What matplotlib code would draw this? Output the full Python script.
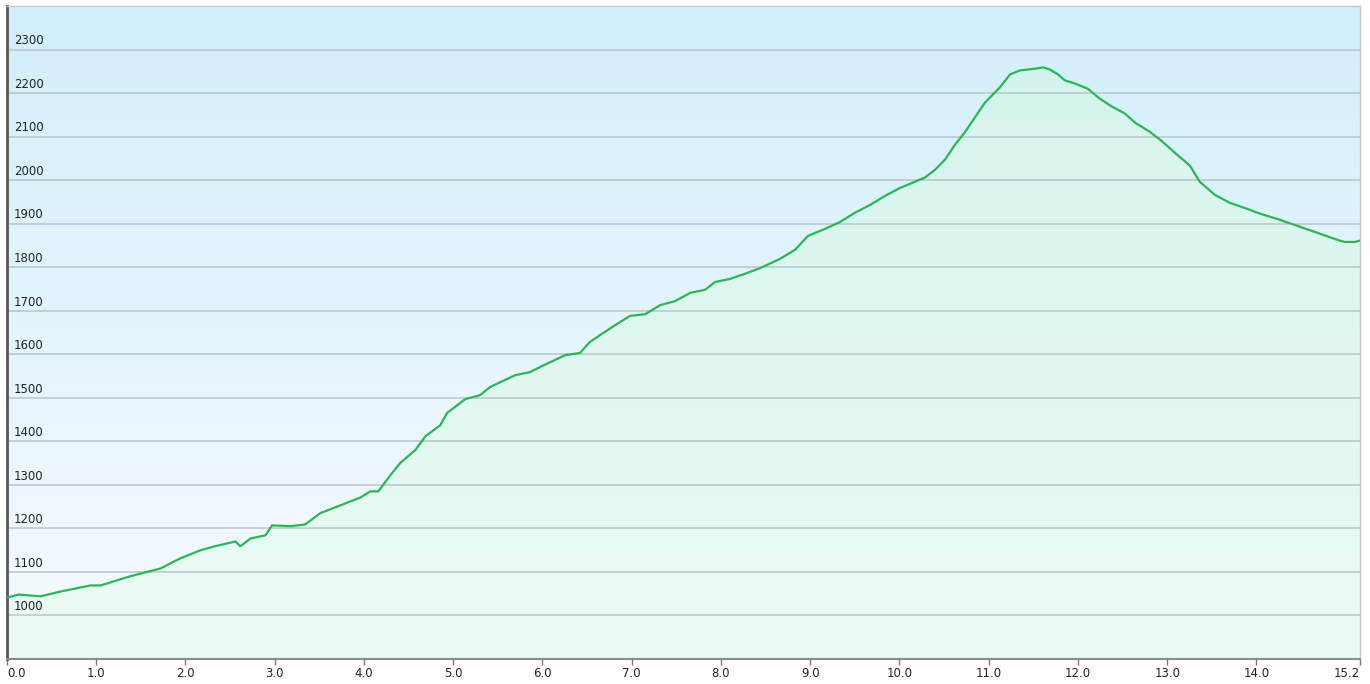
import numpy as np
import matplotlib
matplotlib.use("Agg")
import matplotlib.pyplot as plt
from matplotlib.colors import LinearSegmentedColormap

# distance (km) and elevation (m)
distance = [0.0, 0.13, 0.375, 0.60, 0.935, 1.05, 1.38, 1.72, 1.94, 2.17, 2.33, 2.56, 2.615,
            2.73, 2.895, 2.97, 3.175, 3.34, 3.51, 3.735, 3.96, 4.07, 4.16, 4.295, 4.405,
            4.575, 4.69, 4.855, 4.93, 5.135, 5.30, 5.415, 5.58, 5.695, 5.86, 5.975, 6.14,
            6.255, 6.42, 6.53, 6.645, 6.815, 6.98, 7.15, 7.32, 7.485, 7.655, 7.82, 7.935,
            8.10, 8.27, 8.44, 8.66, 8.83, 8.975, 9.165, 9.335, 9.50, 9.67, 9.84, 10.005,
            10.17, 10.285, 10.40, 10.51, 10.62, 10.73, 10.845, 10.957, 11.125, 11.24, 11.35,
            11.52, 11.61, 11.685, 11.775, 11.855, 11.965, 12.11, 12.245, 12.38, 12.525,
            12.64, 12.805, 12.92, 13.085, 13.255, 13.365, 13.535, 13.70, 13.87, 14.04,
            14.26, 14.485, 14.71, 14.933, 14.99, 15.10, 15.16]
elevation = [1041, 1048, 1044, 1055, 1069, 1069, 1090, 1108, 1131, 1150, 1159, 1170, 1159,
             1177, 1184, 1207, 1205, 1209, 1235, 1253, 1271, 1285, 1285, 1322, 1350,
             1380, 1412, 1437, 1465, 1497, 1506, 1525, 1541, 1552, 1559, 1571, 1587,
             1598, 1603, 1628, 1644, 1667, 1688, 1692, 1713, 1722, 1741, 1748, 1766,
             1773, 1785, 1798, 1819, 1840, 1872, 1888, 1904, 1925, 1943, 1964, 1982,
             1996, 2006, 2024, 2047, 2081, 2109, 2144, 2178, 2213, 2243, 2252,
             2256, 2259, 2254, 2243, 2229, 2222, 2210, 2187, 2169, 2153,
             2132, 2111, 2093, 2063, 2033, 1996, 1966, 1948, 1936, 1923,
             1909, 1893, 1877, 1861, 1858, 1858, 1861]

y_ticks = [1000, 1100, 1200, 1300, 1400, 1500, 1600, 1700, 1800, 1900, 2000, 2100, 2200, 2300]
x_ticks = [0, 1, 2, 3, 4, 5, 6, 7, 8, 9, 10, 11, 12, 13, 14, 15.16]
x_labels = ["0.0", "1.0", "2.0", "3.0", "4.0", "5.0", "6.0", "7.0", "8.0", "9.0",
            "10.0", "11.0", "12.0", "13.0", "14.0", "15.2"]

x0, x1 = 0, 15.16
y0, y1 = 900, 2400

fig = plt.figure(figsize=(13.70, 6.84), dpi=100)
ax = fig.add_axes([7/1370, 25/684, 1353/1370, 653/684])
ax.set_xlim(x0, x1)
ax.set_ylim(y0, y1)

# background gradient
bg = LinearSegmentedColormap.from_list("bg", ["#f6fbfe", "#d2effa"])
grad = np.linspace(0, 1, 256).reshape(-1, 1)
ax.imshow(grad, aspect="auto", cmap=bg, origin="lower",
          extent=[x0, x1, y0, y1], zorder=0)

# green fill gradient clipped to area
fg = LinearSegmentedColormap.from_list("fg", ["#ebfbf3", "#d3f3ee"])
im = ax.imshow(grad, aspect="auto", cmap=fg, origin="lower",
               extent=[x0, x1, y0, y1], zorder=1)
poly = ax.fill_between(distance, elevation, y0, color="none", lw=0)
path = poly.get_paths()[0]
im.set_clip_path(path, transform=ax.transData)

for yv in y_ticks:
    ax.axhline(yv, color="#bcc9cc", lw=1.2, zorder=2)
    ax.text(0.08, yv + 5, str(yv), fontsize=8.5, color="#222222",
            ha="left", va="bottom", zorder=5)

ax.plot(distance, elevation, color="#2bb557", lw=1.6, zorder=4)

ax.set_yticks([])
ax.set_xticks(x_ticks)
ax.set_xticklabels(x_labels, fontsize=8.5, color="#222222")
labels = ax.get_xticklabels()
labels[0].set_horizontalalignment("left")
labels[-1].set_horizontalalignment("right")
ax.tick_params(axis="x", length=4, width=1, color="#777777", pad=2)

ax.spines["left"].set_color("#555555")
ax.spines["left"].set_linewidth(2)
ax.spines["bottom"].set_color("#8a8a8a")
ax.spines["bottom"].set_linewidth(1.5)
ax.spines["top"].set_color("#c8c8c8")
ax.spines["top"].set_linewidth(1)
ax.spines["right"].set_color("#c8c8c8")
ax.spines["right"].set_linewidth(1)

fig.savefig("out.png", dpi=100, facecolor="white")
